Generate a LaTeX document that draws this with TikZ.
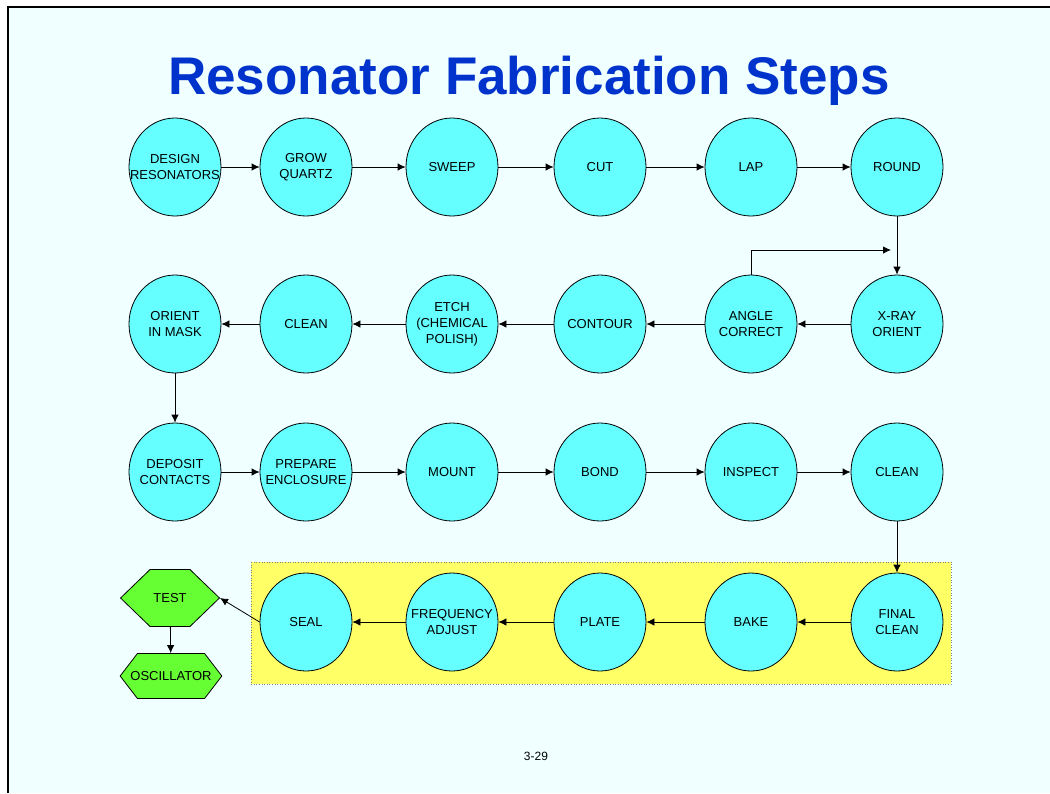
\documentclass[tikz,border=0pt]{standalone}
\usepackage{fontspec}
\setmainfont{Liberation Sans}
\usetikzlibrary{shapes.geometric, shapes.symbols, arrows.meta, backgrounds}

\definecolor{fondpage}{RGB}{240,255,255}
\definecolor{cyanclair}{RGB}{102,255,255}
\definecolor{vertclair}{RGB}{102,255,51}
\definecolor{jaunebloc}{RGB}{255,255,102}
\definecolor{bleutitre}{RGB}{0,51,204}

\begin{document}
\begin{tikzpicture}[x=1pt, y=-1pt,
  etape/.style={ellipse, draw=black, fill=cyanclair, line width=0.8pt,
                minimum width=92pt, minimum height=98pt,
                inner xsep=-14pt, inner ysep=0pt,
                align=center, font=\fontsize{13}{16}\selectfont},
  sortie/.style={signal, signal to=east and west, draw=black,
                 fill=vertclair, line width=0.8pt, inner ysep=0pt,
                 font=\fontsize{13}{16}\selectfont},
  fleche/.style={-{Latex[length=8pt,width=7.5pt]}, line width=0.8pt}
]

  %=========================================================
  % 0. Cadre de la page et titre
  %=========================================================
  \useasboundingbox (0,0) rectangle (1050,793);
  \fill[white] (0,0) rectangle (1050,793);
  \fill[fondpage] (8,7) rectangle (1050,793);
  \draw[line width=2.5pt] (8,793) -- (8,7) -- (1050,7);

  \node[anchor=base, text=bleutitre, font=\fontsize{53}{60}\selectfont\bfseries]
    (titre) at (529,94) {Resonator Fabrication Steps};
  \node[font=\fontsize{12}{14}\selectfont] (page) at (536,756) {3-29};

  % bloc jaune autour de la derniere rangee
  \filldraw[fill=jaunebloc, draw=gray, dotted, line width=0.6pt]
    (251,562) rectangle (951,684);

  %=========================================================
  % 1. Premiere rangee (gauche -> droite)
  %=========================================================
  \node[etape] (design) at (175,167) {DESIGN\\RESONATORS};
  \node[etape] (grow)   at (306,167) {GROW\\QUARTZ};
  \node[etape] (sweep)  at (452,167) {SWEEP};
  \node[etape] (cut)    at (600,167) {CUT};
  \node[etape] (lap)    at (751,167) {LAP};
  \node[etape] (round)  at (897,167) {ROUND};

  %=========================================================
  % 2. Deuxieme rangee (droite -> gauche)
  %=========================================================
  \node[etape] (xray)    at (897,324) {X-RAY\\ORIENT};
  \node[etape] (angle)   at (751,324) {ANGLE\\CORRECT};
  \node[etape] (contour) at (600,324) {CONTOUR};
  \node[etape] (etch)    at (452,324) {ETCH\\(CHEMICAL\\POLISH)};
  \node[etape] (clean)   at (306,324) {CLEAN};
  \node[etape] (orient)  at (175,324) {ORIENT\\IN MASK};

  %=========================================================
  % 3. Troisieme rangee (gauche -> droite)
  %=========================================================
  \node[etape] (deposit) at (175,472) {DEPOSIT\\CONTACTS};
  \node[etape] (prepare) at (306,472) {PREPARE\\ENCLOSURE};
  \node[etape] (mount)   at (452,472) {MOUNT};
  \node[etape] (bond)    at (600,472) {BOND};
  \node[etape] (inspect) at (751,472) {INSPECT};
  \node[etape] (cleanb)  at (897,472) {CLEAN};

  %=========================================================
  % 4. Derniere rangee (droite -> gauche) et sorties
  %=========================================================
  \node[etape] (finalclean) at (897,622) {FINAL\\CLEAN};
  \node[etape] (bake)       at (751,622) {BAKE};
  \node[etape] (plate)      at (600,622) {PLATE};
  \node[etape] (freq)       at (452,622) {FREQUENCY\\ADJUST};
  \node[etape] (seal)       at (306,622) {SEAL};

  \node[sortie, signal pointer angle=88, minimum width=96pt,
        minimum height=57pt] (test) at (170,598) {TEST};
  \node[sortie, signal pointer angle=105, inner xsep=-7pt,
        minimum height=45pt] (oscillator) at (171,676) {OSCILLATOR};

  %=========================================================
  % 5. Fleches
  %=========================================================
  \foreach \a/\b in {design/grow, grow/sweep, sweep/cut, cut/lap, lap/round,
                     deposit/prepare, prepare/mount, mount/bond, bond/inspect,
                     inspect/cleanb}
    \draw[fleche] (\a) -- (\b);
  \foreach \a/\b in {xray/angle, angle/contour, contour/etch, etch/clean,
                     clean/orient, finalclean/bake, bake/plate, plate/freq,
                     freq/seal}
    \draw[fleche] (\a) -- (\b);

  \draw[fleche] (round) -- (xray);
  \draw[fleche] (orient) -- (deposit);
  \draw[fleche] (cleanb) -- (finalclean);

  % retour de ANGLE CORRECT vers X-RAY ORIENT
  \coordinate (retour) at (891,250);
  \draw[fleche] (angle.north) |- (retour);

  \draw[fleche] (seal.west) -- (test.east);
  \draw[fleche] (test) -- (oscillator);

\end{tikzpicture}
\end{document}
